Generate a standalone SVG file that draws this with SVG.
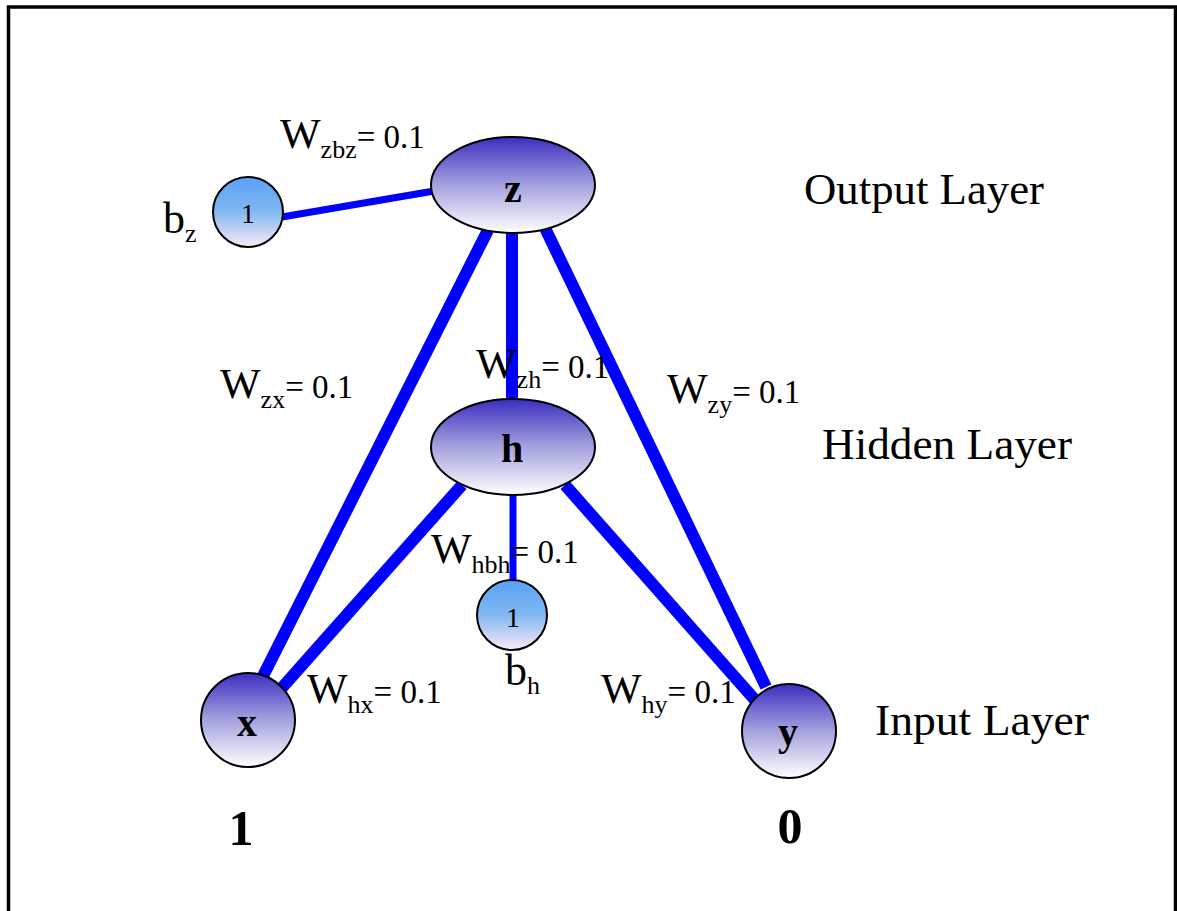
<svg xmlns="http://www.w3.org/2000/svg" width="1177" height="911" viewBox="0 0 1177 911">
<defs>
<linearGradient id="gNode" x1="0" y1="0" x2="0" y2="1">
<stop offset="0" stop-color="#3a2ec0"/>
<stop offset="0.5" stop-color="#a4a2de"/>
<stop offset="1" stop-color="#ffffff"/>
</linearGradient>
<linearGradient id="gBias" x1="0" y1="0" x2="0" y2="1">
<stop offset="0" stop-color="#5aa0f8"/>
<stop offset="0.5" stop-color="#82b8f0"/>
<stop offset="1" stop-color="#fbeaf8"/>
</linearGradient>
<style>
.edge{stroke:#0000ff;stroke-linecap:butt;fill:none}
.thick{stroke-width:12}
.thin{stroke-width:7}
.node{fill:url(#gNode);stroke:#000;stroke-width:2}
.bias{fill:url(#gBias);stroke:#000;stroke-width:2}
.t{font-family:"Liberation Serif","Times New Roman",serif;fill:#000}
.nl{font-weight:bold;font-size:40px;text-anchor:middle}
.one{font-size:28px;text-anchor:middle}
.val{font-weight:bold;font-size:50px;text-anchor:middle}
.layer{font-size:44px}
.W{font-size:43px}
.sub{font-size:26px}
.eq{font-size:33px}
</style>
</defs>
<rect x="8.5" y="7" width="1167" height="1000" fill="#fff" stroke="#000" stroke-width="3.5"/>
<g id="connectors">
<line class="edge thin" x1="282" y1="217" x2="434" y2="191"/>
<line class="edge thick" x1="488" y1="230" x2="260" y2="682"/>
<line class="edge thick" x1="512" y1="233" x2="512" y2="400"/>
<line class="edge thick" x1="545" y1="228" x2="766" y2="687"/>
<line class="edge thick" x1="462" y1="485" x2="280" y2="690"/>
<line class="edge thick" x1="565" y1="485" x2="755" y2="700"/>
<line class="edge thin" x1="513" y1="494" x2="513" y2="581"/>
</g>
<g id="node-z">
<ellipse class="node" cx="513" cy="185" rx="82" ry="48"/>
<text class="t nl" x="513" y="202">z</text>
</g>
<g id="node-bz">
<circle class="bias" cx="248" cy="212" r="35"/>
<text class="t one" x="248" y="223">1</text>
</g>
<g id="node-h">
<ellipse class="node" cx="513" cy="447" rx="82" ry="48"/>
<text class="t nl" x="512" y="462">h</text>
</g>
<g id="node-bh">
<circle class="bias" cx="512" cy="615" r="35"/>
<text class="t one" x="513" y="627">1</text>
</g>
<g id="node-x">
<circle class="node" cx="248" cy="720" r="47"/>
<text class="t nl" x="247" y="736">x</text>
</g>
<g id="node-y">
<circle class="node" cx="789" cy="731" r="47"/>
<text class="t nl" x="788" y="745">y</text>
</g>
<g id="labels">
<text class="t" x="163" y="233"><tspan font-size="44">b</tspan><tspan font-size="26" dy="9">z</tspan></text>
<text class="t" x="505" y="685"><tspan font-size="44">b</tspan><tspan font-size="26" dy="9">h</tspan></text>
<text class="t val" x="241" y="845">1</text>
<text class="t val" x="790" y="843">0</text>
<text class="t layer" x="804" y="204" textLength="240" lengthAdjust="spacingAndGlyphs">Output Layer</text>
<text class="t layer" x="822" y="459" textLength="250" lengthAdjust="spacingAndGlyphs">Hidden Layer</text>
<text class="t layer" x="875" y="735" textLength="214" lengthAdjust="spacingAndGlyphs">Input Layer</text>
<text class="t" x="280" y="148"><tspan class="W">W</tspan><tspan class="sub" dy="10">zbz</tspan><tspan class="eq" dy="-10">= 0.1</tspan></text>
<text class="t" x="220" y="398"><tspan class="W">W</tspan><tspan class="sub" dy="10">zx</tspan><tspan class="eq" dy="-10">= 0.1</tspan></text>
<text class="t" x="476" y="378"><tspan class="W">W</tspan><tspan class="sub" dy="10">zh</tspan><tspan class="eq" dy="-10">= 0.1</tspan></text>
<text class="t" x="667" y="403"><tspan class="W">W</tspan><tspan class="sub" dy="10">zy</tspan><tspan class="eq" dy="-10">= 0.1</tspan></text>
<text class="t" x="431" y="563"><tspan class="W">W</tspan><tspan class="sub" dy="10">hbh</tspan><tspan class="eq" dy="-10">= 0.1</tspan></text>
<text class="t" x="307" y="703"><tspan class="W">W</tspan><tspan class="sub" dy="10">hx</tspan><tspan class="eq" dy="-10">= 0.1</tspan></text>
<text class="t" x="601" y="703"><tspan class="W">W</tspan><tspan class="sub" dy="10">hy</tspan><tspan class="eq" dy="-10">= 0.1</tspan></text>
</g>
</svg>
